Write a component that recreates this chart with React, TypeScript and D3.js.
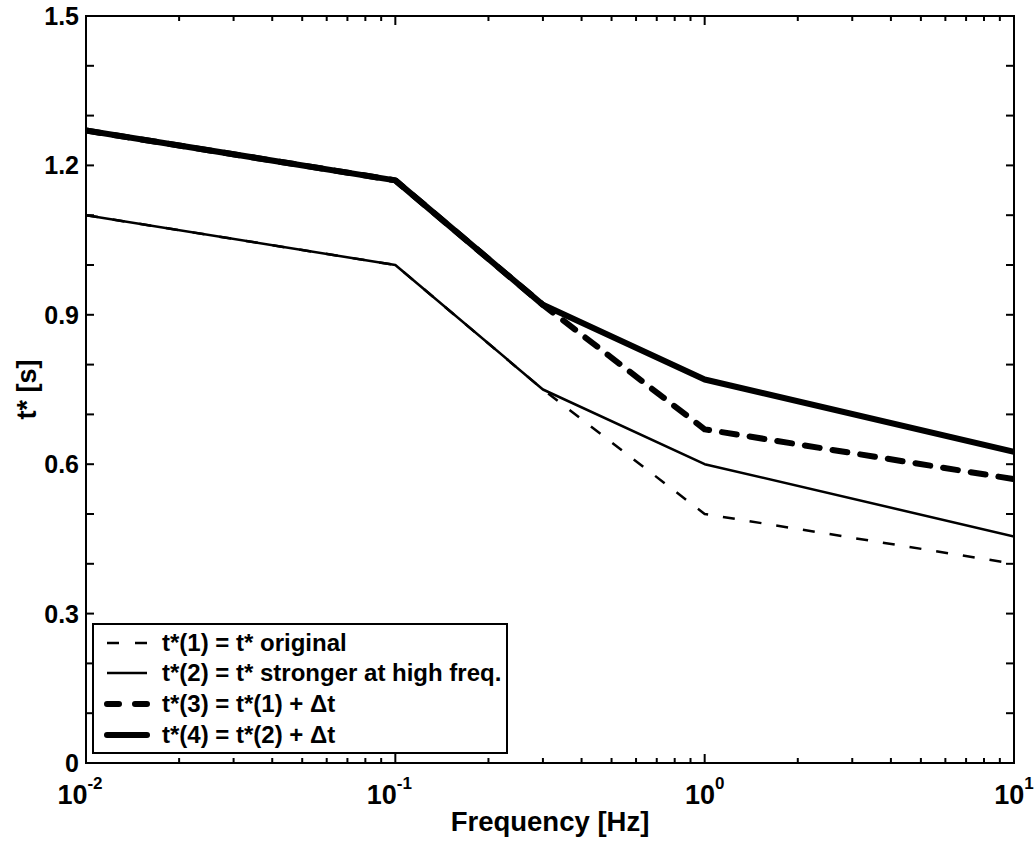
import React from "react";
import * as d3 from "d3";

const freqs = [0.01, 0.1, 0.3, 1, 10];
const tStar1 = [1.1, 1.0, 0.75, 0.5, 0.4];
const tStar2 = [1.1, 1.0, 0.75, 0.6, 0.455];
const tStar3 = [1.27, 1.17, 0.92, 0.67, 0.57];
const tStar4 = [1.27, 1.17, 0.92, 0.77, 0.625];

const seriesLabels = [
  "t*(1) = t* original",
  "t*(2) = t* stronger at high freq.",
  "t*(3) = t*(1) + \u0394t",
  "t*(4) = t*(2) + \u0394t",
];
const yTickValues = [0, 0.1, 0.2, 0.3, 0.4, 0.5, 0.6, 0.7, 0.8, 0.9, 1.0, 1.1, 1.2, 1.3, 1.4, 1.5];
const yLabelValues = [0, 0.3, 0.6, 0.9, 1.2, 1.5];
const xExponents = [-2, -1, 0, 1];

const W = 1034;
const H = 842;
const M = { left: 86, right: 1014, top: 16, bottom: 763 };
const FONT = "'Liberation Sans', Arial, Helvetica, sans-serif";

const styles = [
  { width: 2.5, dash: "12,15" },
  { width: 2.5, dash: null },
  { width: 6, dash: "15,13" },
  { width: 6, dash: null },
];

export default function App() {
  const x = d3.scaleLog().domain([0.01, 10]).range([M.left, M.right]);
  const y = d3.scaleLinear().domain([0, 1.5]).range([M.bottom, M.top]);
  const series = [tStar1, tStar2, tStar3, tStar4];
  const line = d3
    .line<number>()
    .x((_, i) => x(freqs[i]))
    .y((d) => y(d));

  const minorX: { v: number; major: boolean }[] = [];
  for (let e = -2; e <= 1; e++) {
    const base = Math.pow(10, e);
    minorX.push({ v: base, major: true });
    if (e < 1) for (let k = 2; k <= 9; k++) minorX.push({ v: k * base, major: false });
  }

  const legend = { x0: 93, y0: 624, x1: 507, y1: 753 };
  const rowY = [643, 673, 704, 735];

  return (
    <svg
      width={W}
      height={H}
      style={{ position: "absolute", left: 0, top: 0, background: "#fff" }}
      fontFamily={FONT}
    >
      <rect width={W} height={H} fill="#fff" />
      <defs>
        <clipPath id="clip">
          <rect x={M.left} y={M.top} width={M.right - M.left} height={M.bottom - M.top} />
        </clipPath>
      </defs>
      <g clipPath="url(#clip)">
        {series.map((s, i) => (
          <path
            key={i}
            d={line(s) || ""}
            fill="none"
            stroke="#000"
            strokeWidth={styles[i].width}
            strokeDasharray={styles[i].dash || undefined}
            strokeLinejoin="round"
            strokeLinecap={i >= 2 ? "round" : "butt"}
          />
        ))}
      </g>
      <rect
        x={M.left}
        y={M.top}
        width={M.right - M.left}
        height={M.bottom - M.top}
        fill="none"
        stroke="#000"
        strokeWidth={2}
      />
      {yTickValues.map((v) => (
        <g key={"y" + v}>
          <line x1={M.left} x2={M.left + 8} y1={y(v)} y2={y(v)} stroke="#000" strokeWidth={2} />
          <line x1={M.right} x2={M.right - 8} y1={y(v)} y2={y(v)} stroke="#000" strokeWidth={2} />
        </g>
      ))}
      {yLabelValues.map((v) => (
        <text key={"yl" + v} x={79} y={y(v) + 9} textAnchor="end" fontSize={25} fontWeight="bold">
          {v === 0 ? "0" : d3.format(".1f")(v)}
        </text>
      ))}
      {minorX.map((t, i) => {
        const len = t.major ? 9 : 5;
        return (
          <g key={"x" + i}>
            <line x1={x(t.v)} x2={x(t.v)} y1={M.bottom} y2={M.bottom - len} stroke="#000" strokeWidth={2} />
            <line x1={x(t.v)} x2={x(t.v)} y1={M.top} y2={M.top + len} stroke="#000" strokeWidth={2} />
          </g>
        );
      })}
      {xExponents.map((e) => (
        <text
          key={"xl" + e}
          x={x(Math.pow(10, e)) - (e < 0 ? 6 : 0)}
          y={804}
          textAnchor="middle"
          fontSize={27}
          fontWeight="bold"
        >
          10
          <tspan fontSize={17} dy={-15}>
            {e < 0 ? "-" + Math.abs(e) : String(e)}
          </tspan>
        </text>
      ))}
      <text x={(M.left + M.right) / 2} y={831} textAnchor="middle" fontSize={27.5} fontWeight="bold">
        Frequency [Hz]
      </text>
      <text
        transform={`translate(36, ${(M.top + M.bottom) / 2}) rotate(-90)`}
        textAnchor="middle"
        fontSize={27}
        fontWeight="bold"
      >
        t* [s]
      </text>
      <rect
        x={legend.x0}
        y={legend.y0}
        width={legend.x1 - legend.x0}
        height={legend.y1 - legend.y0}
        fill="#fff"
        stroke="#000"
        strokeWidth={2}
      />
      {seriesLabels.map((lab, i) => (
        <g key={"lg" + i}>
          <line
            x1={107}
            x2={147}
            y1={rowY[i]}
            y2={rowY[i]}
            stroke="#000"
            strokeWidth={styles[i].width}
            strokeDasharray={styles[i].dash ? "12,16" : undefined}
            strokeLinecap={i >= 2 ? "round" : "butt"}
          />
          <text x={162} y={rowY[i] + 8} fontSize={24} fontWeight="bold">
            {lab}
          </text>
        </g>
      ))}
    </svg>
  );
}
